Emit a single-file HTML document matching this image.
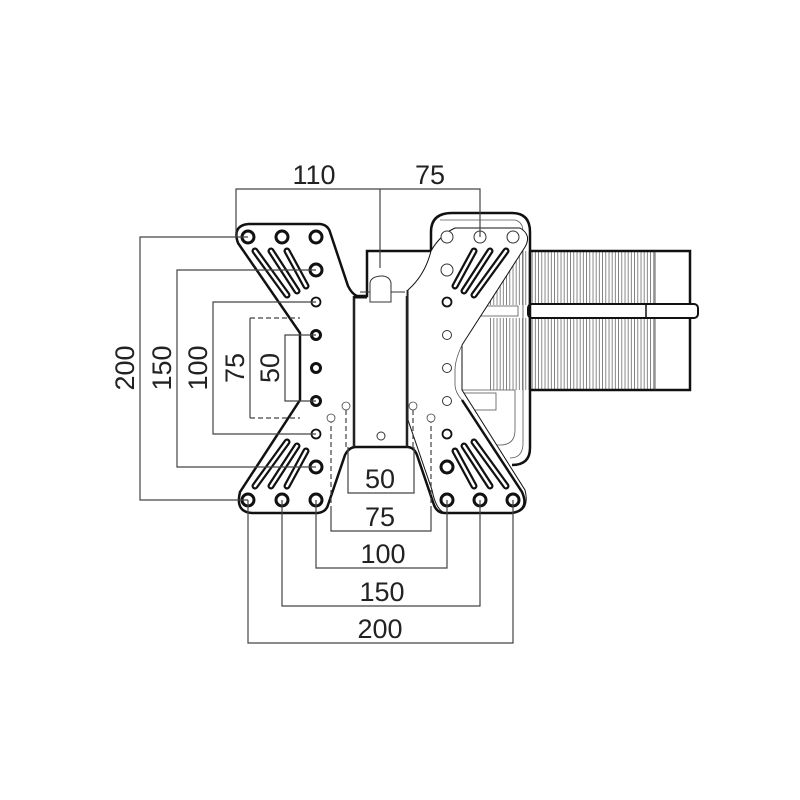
<!DOCTYPE html>
<html><head><meta charset="utf-8"><style>
body{margin:0;background:#fff}
svg{display:block}
text{font-family:"Liberation Sans Narrow","Liberation Sans",sans-serif;font-size:27px;fill:#222;text-anchor:middle}
</style></head><body>
<svg width="800" height="800" viewBox="0 0 800 800" xmlns="http://www.w3.org/2000/svg">
<defs>
<pattern id="h" width="3.2" height="10" patternUnits="userSpaceOnUse"><line x1="1" y1="0" x2="1" y2="10" stroke="#555" stroke-width="0.7"/></pattern>
</defs>
<rect width="800" height="800" fill="#fff"/>
<!-- right arm box -->
<rect x="488" y="251" width="167" height="54" fill="url(#h)"/>
<rect x="488" y="318" width="167" height="72" fill="url(#h)"/>
<path d="M530 251 H690 V390 H530" fill="none" stroke="#111" stroke-width="2.5"/>
<line x1="655" y1="251" x2="655" y2="390" stroke="#333" stroke-width="0.8"/>
<rect x="528" y="304" width="170" height="14" rx="4" fill="#fff" stroke="#111" stroke-width="2"/>
<line x1="646" y1="304" x2="646" y2="318" stroke="#111" stroke-width="1.5"/>
<!-- right plate body outline -->
<path d="M431 251 V232 Q431 213 452 213 H512 Q530 213 530 232 V448 Q530 465 512 465" fill="none" stroke="#111" stroke-width="2.5"/>
<path d="M440 220 H515 Q523 222 523 232 V445 Q522 458 510 458" fill="none" stroke="#555" stroke-width="0.8"/>
<path d="M462 390 H515 V430 Q515 445 500 445 H470" fill="none" stroke="#555" stroke-width="0.8"/>
<rect x="462" y="393" width="34" height="17" fill="#fff" stroke="#555" stroke-width="0.8"/>
<rect x="478" y="306" width="40" height="10" fill="#fff" stroke="#555" stroke-width="0.8"/>
<!-- right plate X -->
<path d="M431 251 Q440 235 455 228 L520 228 Q532 235 525 247 L462 345 V390 L525 490 Q530 510 515 513 L445 513 Q436 510 432 490 L408 420 V290 Q425 275 431 251 Z" fill="#fff" stroke="#111" stroke-width="1"/>
<path d="M462 345 Q455 360 455 370 V385 Q455 392 462 400" fill="none" stroke="#555" stroke-width="0.8"/>
<!-- left plate -->
<path d="M248 224 H320 Q328 225 330 232 L348 286 Q352 294 357 296 H367 V251 H431 M407 296 V447 M354 296 V447
" fill="none" stroke="#111" stroke-width="2.5"/>
<path d="M248 224 Q232 226 238 243 L300 333 V400 L240 492 Q235 512 252 513 H318 Q326 512 328 505 L345 455 Q349 447 356 447 H407 Q414 447 417 455 L434 505 Q437 513 445 513 H512 Q530 510 522 492 L462 400" fill="none" stroke="#111" stroke-width="2.5"/>
<line x1="354" y1="296" x2="354" y2="447" stroke="#333" stroke-width="1"/>
<line x1="407" y1="290" x2="407" y2="447" stroke="#333" stroke-width="1"/>
<line x1="360" y1="292" x2="405" y2="292" stroke="#333" stroke-width="1"/>
<path d="M370 302 V283 Q371 276 383 276 Q390 277 391 283 V302 Z" fill="#fff" stroke="#333" stroke-width="1"/>
<line x1="354" y1="297" x2="367" y2="297" stroke="#111" stroke-width="3"/>
<circle cx="381" cy="436" r="4" fill="none" stroke="#333" stroke-width="1"/>
<!-- holes -->
<g fill="#fff" stroke="#111" stroke-width="3">
<circle cx="248" cy="237" r="6"/><circle cx="282" cy="237" r="6"/><circle cx="316" cy="237" r="6"/>
<circle cx="316" cy="270" r="6"/><circle cx="316" cy="467" r="6"/>
<circle cx="248" cy="500" r="6"/><circle cx="282" cy="500" r="6"/><circle cx="316" cy="500" r="6"/>
<circle cx="447" cy="500" r="6"/><circle cx="480" cy="500" r="6"/><circle cx="513" cy="500" r="6"/>
<circle cx="447" cy="467" r="6"/>
<circle cx="316" cy="335" r="4.5"/><circle cx="316" cy="368" r="4.5"/><circle cx="316" cy="401" r="4.5"/>
</g>
<g fill="#fff" stroke="#111" stroke-width="1.8">
<circle cx="316" cy="302" r="4.5"/><circle cx="316" cy="434" r="4.5"/>
<circle cx="447" cy="302" r="4.5"/><circle cx="447" cy="434" r="4.5"/>
</g>
<g fill="#fff" stroke="#333" stroke-width="1">
<circle cx="447" cy="237" r="6"/><circle cx="480" cy="237" r="6"/><circle cx="513" cy="237" r="6"/>
<circle cx="447" cy="270" r="6"/><circle cx="447" cy="335" r="4.5"/><circle cx="447" cy="368" r="4.5"/><circle cx="447" cy="401" r="4.5"/>
</g>
<!-- slots -->
<g fill="none" stroke="#111" stroke-width="1.5" stroke-linecap="round">
<g stroke-width="7"><line x1="255" y1="251" x2="287" y2="295"/><line x1="271" y1="251" x2="297" y2="291"/><line x1="287" y1="251" x2="306" y2="286"/>
<line x1="255" y1="486" x2="287" y2="442"/><line x1="271" y1="486" x2="297" y2="446"/><line x1="287" y1="486" x2="306" y2="451"/>
<line x1="506" y1="251" x2="474" y2="295"/><line x1="490" y1="251" x2="464" y2="291"/><line x1="474" y1="251" x2="455" y2="286"/>
<line x1="506" y1="486" x2="474" y2="442"/><line x1="490" y1="486" x2="464" y2="446"/><line x1="474" y1="486" x2="455" y2="451"/></g>
</g>
<g fill="none" stroke="#fff" stroke-width="2.5" stroke-linecap="round">
<line x1="255" y1="251" x2="287" y2="295"/><line x1="271" y1="251" x2="297" y2="291"/><line x1="287" y1="251" x2="306" y2="286"/>
<line x1="255" y1="486" x2="287" y2="442"/><line x1="271" y1="486" x2="297" y2="446"/><line x1="287" y1="486" x2="306" y2="451"/>
<line x1="506" y1="251" x2="474" y2="295"/><line x1="490" y1="251" x2="464" y2="291"/><line x1="474" y1="251" x2="455" y2="286"/>
<line x1="506" y1="486" x2="474" y2="442"/><line x1="490" y1="486" x2="464" y2="446"/><line x1="474" y1="486" x2="455" y2="451"/>
</g>
<!-- dimension lines -->
<g fill="none" stroke="#444" stroke-width="1.2">
<path d="M236 237 V189 H480 V237 M380 189 V268"/>
<path d="M248 237 H140 V500 H248"/>
<path d="M316 270 H177 V467 H316"/>
<path d="M316 302 H213 V434 H316"/>
<path d="M316 335 H285 V401 H316"/>
<path d="M250 318 V418"/>
<path d="M348 447 V493 H414 V447"/>
<path d="M316 500 V568 H447 V500"/>
<path d="M282 500 V606 H480 V500"/>
<path d="M248 500 V643 H513 V500"/>
<path d="M331 510 V531 H431 V510"/>
</g>
<g fill="none" stroke="#444" stroke-width="1.2" stroke-dasharray="5,3">
<path d="M250 318 H300 M250 418 H300"/>
<path d="M331 418 V510 M431 418 V510 M346 410 V447 M413 410 V447"/>
</g>
<g fill="#fff" stroke="#444" stroke-width="0.8"><circle cx="331" cy="418" r="4"/><circle cx="346" cy="406" r="4"/><circle cx="413" cy="406" r="4"/><circle cx="431" cy="418" r="4"/></g>
<!-- labels -->
<text x="314" y="184">110</text>
<text x="430" y="184">75</text>
<text x="380" y="488">50</text>
<text x="380" y="526">75</text>
<text x="383" y="563">100</text>
<text x="382" y="601">150</text>
<text x="380" y="638">200</text>
<text transform="translate(134,368) rotate(-90)">200</text>
<text transform="translate(171,368) rotate(-90)">150</text>
<text transform="translate(207,368) rotate(-90)">100</text>
<text transform="translate(244,368) rotate(-90)">75</text>
<text transform="translate(279,368) rotate(-90)">50</text>
</svg>
</body></html>
